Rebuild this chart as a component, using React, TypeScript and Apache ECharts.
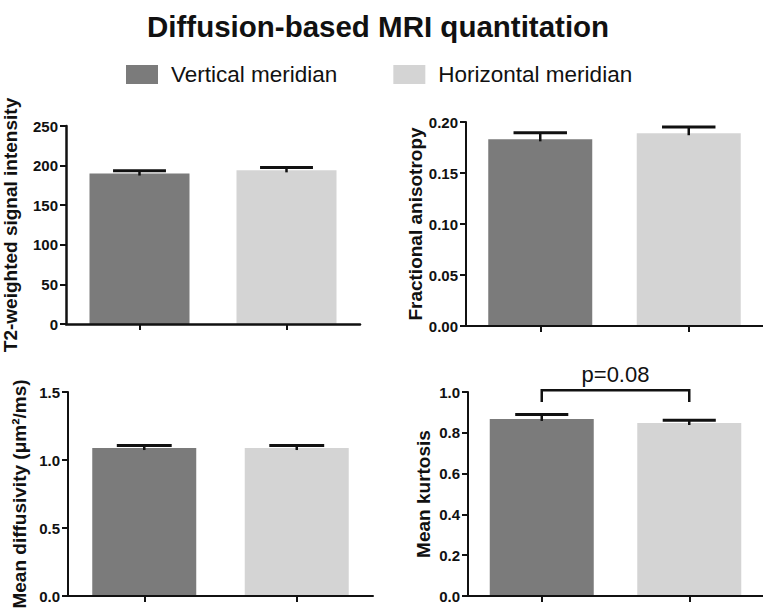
import React, { useEffect, useRef } from "react";
import * as echarts from "echarts";

// ---- data ----
const categories = ["Vertical meridian", "Horizontal meridian"];
const titleText = "Diffusion-based MRI quantitation";

const t2Mean = [190, 194];
const t2Err = [3.5, 3.5];
const faMean = [0.183, 0.189];
const faErr = [0.0065, 0.006];
const mdMean = [1.088, 1.088];
const mdErr = [0.018, 0.018];
const mkMean = [0.868, 0.848];
const mkErr = [0.022, 0.013];

const panelNames = [
  "T2-weighted signal intensity",
  "Fractional anisotropy",
  "Mean diffusivity (\u03bcm\u00b2/ms)",
  "Mean kurtosis",
];
const yMax = [250, 0.2, 1.5, 1.0];
const yInterval = [50, 0.05, 0.5, 0.2];
const yDecimals = [0, 2, 1, 1];

// significance bracket in panel 4: [fromCategory, toCategory, bracketTop, legBottom]
const bracketData = [[0, 1, 1.008, 0.951]];
const pLabel = "p=0.08";

// ---- styles / layout ----
const FONT = "'Liberation Sans', Arial, sans-serif";
const DARK = "#7b7b7b";
const LIGHT = "#d4d4d4";
const INK = "#111111";

const grids = [
  { left: 66, top: 126, width: 294, height: 198 },
  { left: 466, top: 122, width: 310, height: 204 },
  { left: 68, top: 392, width: 305, height: 204 },
  { left: 468, top: 392, width: 310, height: 204 },
];
const barWidths = [100, 104, 104, 104];
const nameGaps = [46, 40, 39, 35];
const axisWidths = [2.5, 2, 2, 2];

const means = [t2Mean, faMean, mdMean, mkMean];
const errs = [t2Err, faErr, mdErr, mkErr];

export default function App() {
  const ref = useRef<HTMLDivElement>(null);

  useEffect(() => {
    if (!ref.current) return;
    const chart = echarts.init(ref.current, null, { renderer: "svg" });

    const xAxes = grids.map((_, i) => ({
      type: "category",
      gridIndex: i,
      data: categories,
      z: 4,
      axisLine: { lineStyle: { color: INK, width: axisWidths[i] } },
      axisTick: {
        show: true,
        interval: 0,
        alignWithLabel: true,
        length: 6,
        lineStyle: { color: INK, width: 2 },
      },
      axisLabel: { show: false, interval: 0 },
      splitLine: { show: false },
    }));

    const yAxes = grids.map((_, i) => ({
      type: "value",
      gridIndex: i,
      min: 0,
      max: yMax[i],
      interval: yInterval[i],
      z: 4,
      axisLine: { show: true, lineStyle: { color: INK, width: axisWidths[i] } },
      axisTick: { show: true, length: 6, lineStyle: { color: INK, width: 2 } },
      splitLine: { show: false },
      axisLabel: {
        color: INK,
        fontFamily: FONT,
        fontWeight: "bold",
        fontSize: 15,
        margin: 8,
        formatter: (v: number) => v.toFixed(yDecimals[i]),
      },
      name: panelNames[i],
      nameLocation: "middle",
      nameGap: nameGaps[i],
      nameTextStyle: { color: INK, fontFamily: FONT, fontWeight: "bold", fontSize: 19 },
    }));

    const series: any[] = [];
    grids.forEach((_, i) => {
      series.push({
        name: categories[0],
        type: "bar",
        xAxisIndex: i,
        yAxisIndex: i,
        data: [means[i][0], "-"],
        barWidth: barWidths[i],
        barGap: "-100%",
        itemStyle: { color: DARK },
        z: 1,
      });
      series.push({
        name: categories[1],
        type: "bar",
        xAxisIndex: i,
        yAxisIndex: i,
        data: ["-", means[i][1]],
        barWidth: barWidths[i],
        barGap: "-100%",
        itemStyle: { color: LIGHT },
        z: 1,
      });
      series.push({
        type: "custom",
        xAxisIndex: i,
        yAxisIndex: i,
        z: 5,
        encode: { x: 0, y: 1 },
        data: means[i].map((m, k) => [k, m, errs[i][k]]),
        renderItem: (params: any, api: any) => {
          const x = api.value(0);
          const m = api.value(1);
          const e = api.value(2);
          const top = api.coord([x, m + e]);
          const base = api.coord([x, m]);
          const half = api.size([1, 0])[0] * 0.18;
          return {
            type: "group",
            children: [
              {
                type: "line",
                shape: { x1: top[0], y1: top[1], x2: base[0], y2: base[1] + 2 },
                style: { stroke: INK, lineWidth: 2.5 },
              },
              {
                type: "line",
                shape: { x1: top[0] - half, y1: top[1], x2: top[0] + half, y2: top[1] },
                style: { stroke: INK, lineWidth: 3 },
              },
            ],
          };
        },
      });
    });

    series.push({
      type: "custom",
      xAxisIndex: 3,
      yAxisIndex: 3,
      z: 6,
      data: bracketData,
      renderItem: (params: any, api: any) => {
        const a = api.value(0);
        const b = api.value(1);
        const yt = api.value(2);
        const yl = api.value(3);
        const p1 = api.coord([a, yl]);
        const p2 = api.coord([a, yt]);
        const p3 = api.coord([b, yt]);
        const p4 = api.coord([b, yl]);
        return {
          type: "group",
          children: [
            {
              type: "polyline",
              shape: { points: [p1, p2, p3, p4] },
              style: { stroke: INK, lineWidth: 2.5, fill: "none" },
            },
            {
              type: "text",
              x: (p2[0] + p3[0]) / 2,
              y: p2[1] - 5,
              style: {
                text: pLabel,
                fill: INK,
                font: `22px ${FONT}`,
                textAlign: "center",
                textVerticalAlign: "bottom",
              },
            },
          ],
        };
      },
    });

    chart.setOption({
      animation: false,
      backgroundColor: "#ffffff",
      title: {
        text: titleText,
        left: 142,
        top: 6,
        textStyle: { color: INK, fontFamily: FONT, fontWeight: "bold", fontSize: 29.5 },
      },
      legend: {
        data: categories,
        left: 121,
        top: 58,
        icon: "rect",
        itemWidth: 32,
        itemHeight: 19,
        itemGap: 56,
        selectedMode: false,
        textStyle: {
          color: INK,
          fontFamily: FONT,
          fontSize: 22.5,
          padding: [0, 0, 0, 8],
        },
      },
      grid: grids.map((g) => ({ ...g, containLabel: false })),
      xAxis: xAxes,
      yAxis: yAxes,
      series,
    });

    return () => chart.dispose();
  }, []);

  return (
    <div
      ref={ref}
      style={{ position: "fixed", left: 0, top: 0, width: 763, height: 614, background: "#fff" }}
    />
  );
}
